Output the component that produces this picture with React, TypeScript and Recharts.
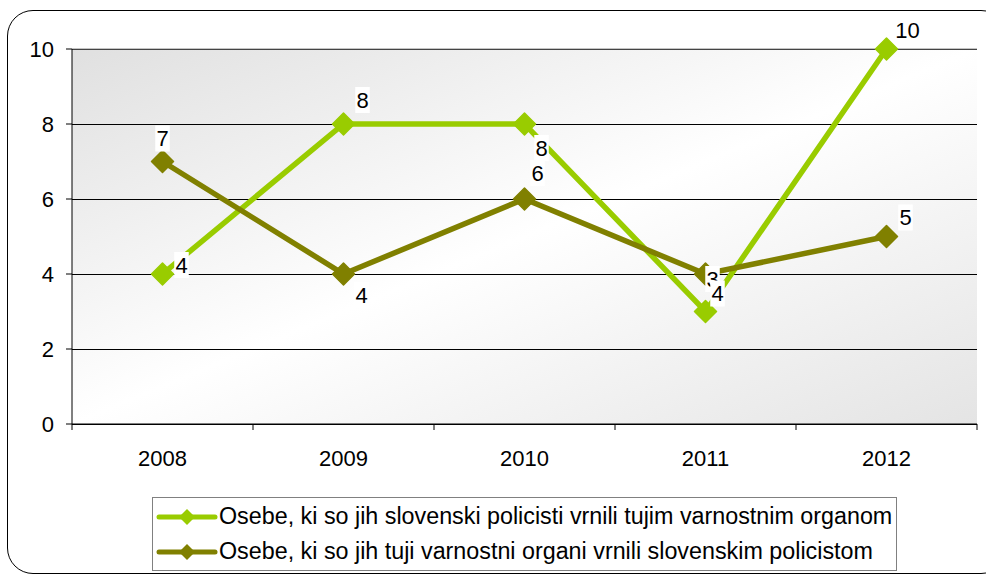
import React from 'react';
import { LineChart, Line, XAxis, YAxis, CartesianGrid, ReferenceLine, LabelList } from 'recharts';

// Values
const years = ['2008', '2009', '2010', '2011', '2012'];
const returnedByOurs = [4, 8, 8, 3, 10];
const returnedByForeign = [7, 4, 6, 4, 5];
// data labels as printed in the original (the 2011 pair is swapped there)
const returnedByOursLabels = ['4', '8', '8', '4', '10'];
const returnedByForeignLabels = ['7', '4', '6', '3', '5'];
const yTicks = [0, 2, 4, 6, 8, 10];

const seriesNames = [
  'Osebe, ki so jih slovenski policisti vrnili tujim varnostnim organom',
  'Osebe, ki so jih tuji varnostni organi vrnili slovenskim policistom',
];
const seriesColors = ['#99CC00', '#808000'];

// label offsets from each point (dx, dy)
const oursLabelOffsets = [[19, -9], [19, -24], [17, 24], [12, -18], [21, -19]];
const foreignLabelOffsets = [[0, -23], [18, 21], [13, -26], [7, 5], [19, -19]];

const chartData = years.map((year, i) => ({
  year,
  ours: returnedByOurs[i],
  foreign: returnedByForeign[i],
  oursLabel: returnedByOursLabels[i],
  foreignLabel: returnedByForeignLabels[i],
}));

const FONT = '"Liberation Sans", Arial, sans-serif';

const diamond = (cx: number, cy: number, r: number) =>
  `M${cx},${cy - r} L${cx + r},${cy} L${cx},${cy + r} L${cx - r},${cy} Z`;

const makeDot = (color: string) => (props: any) => {
  const { cx, cy, index } = props;
  if (cx == null || cy == null) return <g key={index} />;
  return (
    <path
      key={index}
      d={diamond(cx, cy, 11)}
      fill={color}
      stroke={color}
      strokeWidth={1.5}
      strokeLinejoin="round"
    />
  );
};

const makeLabel = (offsets: number[][]) => (props: any) => {
  const { x, y, value, index } = props;
  if (x == null || y == null) return null;
  const [dx, dy] = offsets[index] || [0, -20];
  const text = String(value);
  const w = text.length * 12.5 + 2;
  const h = 26;
  const cx = x + dx;
  const cy = y + dy;
  return (
    <g key={index}>
      <rect x={cx - w / 2} y={cy - h / 2} width={w} height={h} fill="#fff" />
      <text
        x={cx}
        y={cy}
        textAnchor="middle"
        dominantBaseline="central"
        fontSize={22}
        fontFamily={FONT}
        fill="#000"
      >
        {text}
      </text>
    </g>
  );
};

// category label at the centre, tick marks between categories (Excel style)
const XTick = (props: any) => {
  const { x, y, payload, index, width, visibleTicksCount } = props;
  const step = width / visibleTicksCount;
  const axisY = y - 6;
  return (
    <g>
      <line x1={x - step / 2} x2={x - step / 2} y1={axisY} y2={axisY + 6} stroke="#000" />
      {index === visibleTicksCount - 1 && (
        <line x1={x + step / 2} x2={x + step / 2} y1={axisY} y2={axisY + 6} stroke="#000" />
      )}
      <text
        x={x}
        y={axisY + 34}
        textAnchor="middle"
        dominantBaseline="central"
        fontSize={22}
        fontFamily={FONT}
        fill="#000"
      >
        {payload.value}
      </text>
    </g>
  );
};

function LegendBox() {
  return (
    <div
      style={{
        position: 'absolute',
        left: 152,
        top: 497,
        width: 745,
        height: 74,
        boxSizing: 'border-box',
        border: '1px solid #808080',
        background: '#fff',
        paddingTop: 1,
        fontFamily: FONT,
        fontSize: 23.3,
        color: '#000',
      }}
    >
      {seriesNames.map((name, i) => (
        <div key={name} style={{ display: 'flex', alignItems: 'center', height: 35 }}>
          <svg width={66} height={20} style={{ flex: 'none' }}>
            <line x1={6} x2={62} y1={10} y2={10} stroke={seriesColors[i]} strokeWidth={5} strokeLinecap="round" />
            <path d={diamond(34, 10, 8)} fill={seriesColors[i]} />
          </svg>
          <span style={{ whiteSpace: 'nowrap' }}>{name}</span>
        </div>
      ))}
    </div>
  );
}

export default function App() {
  return (
    <div
      style={{
        position: 'absolute',
        left: 0,
        top: 0,
        width: 986,
        height: 575,
        overflow: 'hidden',
        background: '#fff',
      }}
    >
      <div
        style={{
          position: 'absolute',
          left: 7,
          top: 10,
          width: 1000,
          height: 564,
          boxSizing: 'border-box',
          border: '1.5px solid #000',
          borderRadius: 26,
        }}
      />
      <div style={{ position: 'absolute', left: 0, top: 0 }}>
        <LineChart
          width={986}
          height={575}
          data={chartData}
          margin={{ top: 49, right: 9, left: 12, bottom: 121 }}
        >
          <defs>
            {/* gray corners top-left and bottom-right, white along the other diagonal */}
            <linearGradient id="plotBg" x1="0" y1="0" x2="1" y2="1">
              <stop offset="0%" stopColor="#e0e0e0" />
              <stop offset="50%" stopColor="#ffffff" />
              <stop offset="100%" stopColor="#e4e4e4" />
            </linearGradient>
          </defs>
          <CartesianGrid
            vertical={false}
            stroke="#000"
            fill="url(#plotBg)"
            fillOpacity={1}
            shapeRendering="crispEdges"
          />
          <XAxis
            dataKey="year"
            scale="band"
            height={30}
            axisLine={{ stroke: '#000' }}
            tickLine={false}
            tickSize={6}
            tickMargin={0}
            interval={0}
            tick={<XTick />}
          />
          <YAxis
            domain={[0, 10]}
            ticks={yTicks}
            width={60}
            axisLine={{ stroke: '#000' }}
            tickLine={{ stroke: '#000' }}
            tickSize={6}
            tickMargin={12}
            tick={{ fontSize: 22, fontFamily: FONT, fill: '#000' }}
          />
          <YAxis
            yAxisId="frame"
            orientation="right"
            width={0}
            tick={false}
            tickLine={false}
            axisLine={{ stroke: '#888' }}
          />
          <ReferenceLine y={10} stroke="#888" />
          <Line
            dataKey="ours"
            name={seriesNames[0]}
            stroke={seriesColors[0]}
            strokeWidth={5.5}
            dot={makeDot(seriesColors[0])}
            activeDot={false}
            isAnimationActive={false}
          />
          <Line
            dataKey="foreign"
            name={seriesNames[1]}
            stroke={seriesColors[1]}
            strokeWidth={5.5}
            dot={makeDot(seriesColors[1])}
            activeDot={false}
            isAnimationActive={false}
          />
          {/* label-only layers so the labels sit above both lines */}
          <Line dataKey="foreign" stroke="none" dot={false} activeDot={false} legendType="none" isAnimationActive={false}>
            <LabelList dataKey="foreignLabel" content={makeLabel(foreignLabelOffsets)} />
          </Line>
          <Line dataKey="ours" stroke="none" dot={false} activeDot={false} legendType="none" isAnimationActive={false}>
            <LabelList dataKey="oursLabel" content={makeLabel(oursLabelOffsets)} />
          </Line>
        </LineChart>
      </div>
      <LegendBox />
    </div>
  );
}
